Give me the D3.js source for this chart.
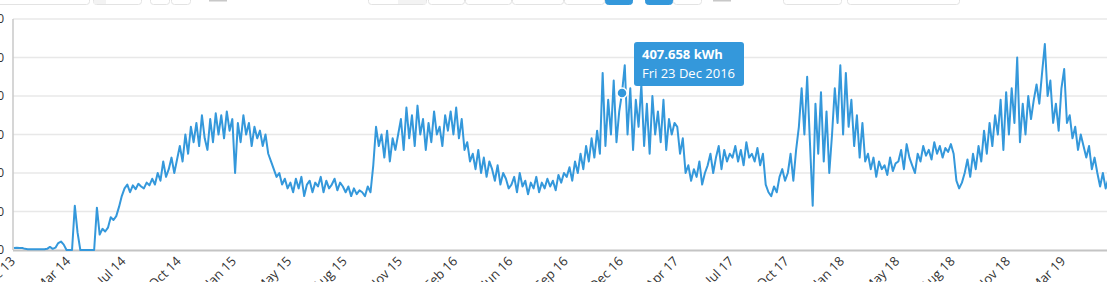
<!DOCTYPE html>
<html>
<head>
<meta charset="utf-8">
<script src="https://cdn.jsdelivr.net/npm/d3@7"></script>
<style>
  html, body { margin: 0; padding: 0; background: #fff; overflow: hidden; }
  svg { display: block; font-family: "Open Sans", sans-serif; }
</style>
</head>
<body>
<script>
// daily energy series, read every 5 days starting 19 Dec 2013
var startDate = "2013-12-19";
var stepDays = 5;

// kWh, one row = 100 days (one x tick interval)
var energy = [
  5, 6, 5, 5, 3, 2, 2, 2, 2, 2, 2, 2, 3, 8, 3, 6, 18, 22, 14, 0,
  0, 0, 115, 45, 0, 0, 0, 0, 0, 0, 110, 40, 55, 48, 58, 85, 78, 88, 112, 140,
  160, 170, 150, 168, 158, 172, 165, 160, 175, 168, 185, 170, 200, 180, 230, 190, 210, 240, 200, 235,
  270, 230, 300, 250, 320, 280, 330, 270, 350, 290, 260, 340, 280, 355, 300, 350, 290, 360, 310, 340,
  200, 330, 280, 350, 300, 330, 270, 320, 290, 310, 270, 300, 250, 230, 210, 190, 200, 170, 185, 160,
  175, 150, 185, 160, 190, 140, 170, 180, 150, 175, 165, 190, 150, 180, 160, 170, 185, 155, 175, 165,
  150, 165, 140, 160, 145, 155, 150, 140, 165, 150, 220, 320, 270, 300, 240, 310, 230, 290, 260, 300,
  340, 260, 370, 290, 350, 270, 375, 300, 340, 260, 330, 280, 360, 300, 320, 270, 350, 310, 360, 300,
  370, 290, 340, 260, 280, 230, 250, 210, 260, 200, 240, 190, 230, 210, 180, 220, 170, 200, 185, 160,
  170, 190, 150, 200, 165, 180, 145, 175, 160, 190, 150, 175, 160, 185, 165, 180, 155, 195, 175, 200,
  190, 215, 180, 230, 200, 250, 210, 270, 230, 290, 240, 310, 250, 460, 270, 390, 300, 440, 280, 360,
  407.658, 480, 300, 420, 260, 390, 320, 430, 270, 380, 250, 400, 300, 360, 280, 390, 260, 340, 300, 330,
  320, 250, 290, 200, 220, 180, 210, 190, 230, 170, 200, 220, 250, 200, 240, 270, 210, 260, 230, 250,
  240, 270, 230, 260, 220, 280, 240, 250, 230, 265, 220, 250, 170, 150, 140, 165, 150, 190, 210, 180,
  200, 250, 180, 260, 320, 420, 300, 450, 280, 115, 380, 250, 410, 230, 360, 200, 300, 420, 330, 480,
  300, 460, 320, 390, 270, 350, 240, 330, 230, 250, 210, 240, 190, 230, 210, 220, 195, 240, 205, 225,
  230, 260, 210, 275, 240, 220, 200, 250, 230, 270, 245, 260, 235, 280, 250, 270, 240, 265, 255, 275,
  250, 180, 160, 175, 200, 235, 190, 250, 210, 270, 230, 310, 250, 330, 270, 350, 300, 390, 260, 410,
  300, 420, 330, 500, 280, 380, 300, 400, 340, 390, 430, 380, 460, 535, 400, 440, 330, 380, 310, 420,
  470, 330, 350, 290, 320, 260, 300, 270, 240, 270, 210, 240, 200, 165, 200, 160, 185
];

var yTicks = [0, 100, 200, 300, 400, 500, 600];
var tickLabels = ["Dec 13", "Mar 14", "Jul 14", "Oct 14", "Jan 15", "May 15", "Aug 15",
  "Nov 15", "Feb 16", "Jun 16", "Sep 16", "Dec 16", "Apr 17", "Jul 17", "Oct 17",
  "Jan 18", "May 18", "Aug 18", "Nov 18", "Mar 19"];
var tickStepDays = 100;

// hovered point
var hoverDate = "2016-12-23";
var hoverValue = 407.658;
var hoverUnit = " kWh";

var width = 1107, height = 282;
var blue = "#3498db";

var svg = d3.select("body").append("svg")
  .attr("width", width)
  .attr("height", height);

var t0 = d3.utcParse("%Y-%m-%d")(startDate);

var x = d3.scaleUtc()
  .domain([t0, d3.utcDay.offset(t0, 1100)])
  .range([14, 622]);

var y = d3.scaleLinear()
  .domain([0, 600])
  .range([250, 19]);

var series = energy.map(function(v, i) {
  return { date: d3.utcDay.offset(t0, i * stepDays), value: v };
});

// toolbar buttons peeking in at the top (page chrome, cut off)
var buttons = [
  [-10, 90, null], [93, 142, "left"], [150, 170, null], [171, 191, null],
  [368, 427, "right"], [428, 465, null], [465, 512, null], [512, 564, null],
  [564, 605, null], [605, 633, "blue"], [645, 673, "blue"], [673, 702, null],
  [783, 842, null], [847, 960, null]
];
buttons.forEach(function(b) {
  var g = svg.append("g");
  g.append("rect")
    .attr("x", b[0] + 0.5).attr("y", -20)
    .attr("width", b[1] - b[0] - 1).attr("height", 24.5)
    .attr("rx", 3)
    .attr("fill", b[2] == "blue" ? blue : "#fff")
    .attr("stroke", b[2] == "blue" ? blue : "#e3e3e3");
  if (b[2] == "left" || b[2] == "right") {
    var w = b[2] == "left" ? 12 : 28;
    g.append("rect")
      .attr("x", b[2] == "left" ? b[0] + 1 : b[1] - w - 1).attr("y", 0)
      .attr("width", w).attr("height", 4)
      .attr("fill", "#f3f3f3");
  }
});
[[209, 227], [713, 731]].forEach(function(b) {
  svg.append("rect").attr("x", b[0]).attr("y", 0)
    .attr("width", b[1] - b[0]).attr("height", 1.5).attr("fill", "#c8c8c8");
});

// grid
svg.append("g")
  .selectAll("line")
  .data(yTicks.slice(1))
  .enter()
  .append("line")
  .attr("x1", 13).attr("x2", width)
  .attr("y1", function(d) { return y(d); })
  .attr("y2", function(d) { return y(d); })
  .attr("stroke", "#e8e8e8")
  .attr("stroke-width", 1.6);

// y axis (labels mostly off the left edge)
var yAxis = svg.append("g");
yAxis.append("line")
  .attr("x1", 13).attr("x2", 13)
  .attr("y1", y(600)).attr("y2", y(0))
  .attr("stroke", "#c8c8c8").attr("stroke-width", 1.5);
yAxis.selectAll("text")
  .data(yTicks)
  .enter()
  .append("text")
  .attr("x", 4)
  .attr("y", function(d) { return y(d); })
  .attr("dy", "0.35em")
  .attr("text-anchor", "end")
  .attr("fill", "#333")
  .style("font-size", "12px")
  .text(function(d) { return d; });

// x axis
svg.append("line")
  .attr("x1", 13).attr("x2", width)
  .attr("y1", y(0) + 0.5).attr("y2", y(0) + 0.5)
  .attr("stroke", "#c4c4c4").attr("stroke-width", 2);

svg.append("g")
  .selectAll("text")
  .data(tickLabels)
  .enter()
  .append("text")
  .attr("transform", function(d, k) {
    var tx = x(d3.utcDay.offset(t0, k * tickStepDays));
    return "translate(" + (tx + 2) + "," + 262 + ") rotate(-45)";
  })
  .attr("text-anchor", "end")
  .attr("fill", "#333")
  .style("font-size", "13px")
  .text(function(d) { return d; });

// line
svg.append("clipPath").attr("id", "plot")
  .append("rect").attr("x", 13).attr("y", 0).attr("width", width).attr("height", 251);

svg.append("path")
  .datum(series)
  .attr("clip-path", "url(#plot)")
  .attr("fill", "none")
  .attr("stroke", blue)
  .attr("stroke-width", 2)
  .attr("stroke-linejoin", "round")
  .attr("d", d3.line()
    .x(function(d) { return x(d.date); })
    .y(function(d) { return y(d.value); }));

// hover marker + tooltip
var hd = d3.utcParse("%Y-%m-%d")(hoverDate);
var hx = x(hd), hy = y(hoverValue);
svg.append("circle")
  .attr("cx", hx).attr("cy", hy).attr("r", 5)
  .attr("fill", blue)
  .attr("stroke", "#fff").attr("stroke-width", 1.5);

var tip = svg.append("g")
  .attr("transform", "translate(" + (hx + 12) + "," + (hy - 51) + ")");
tip.append("rect")
  .attr("width", 110).attr("height", 44).attr("rx", 3)
  .attr("fill", blue);
tip.append("text")
  .attr("x", 8).attr("y", 17)
  .attr("fill", "#fff")
  .style("font-size", "13px").style("font-weight", "bold")
  .text(hoverValue + hoverUnit);
tip.append("text")
  .attr("x", 8).attr("y", 36)
  .attr("fill", "#fff")
  .style("font-size", "13px")
  .text(d3.utcFormat("%a %-d %b %Y")(hd));
</script>
</body>
</html>
